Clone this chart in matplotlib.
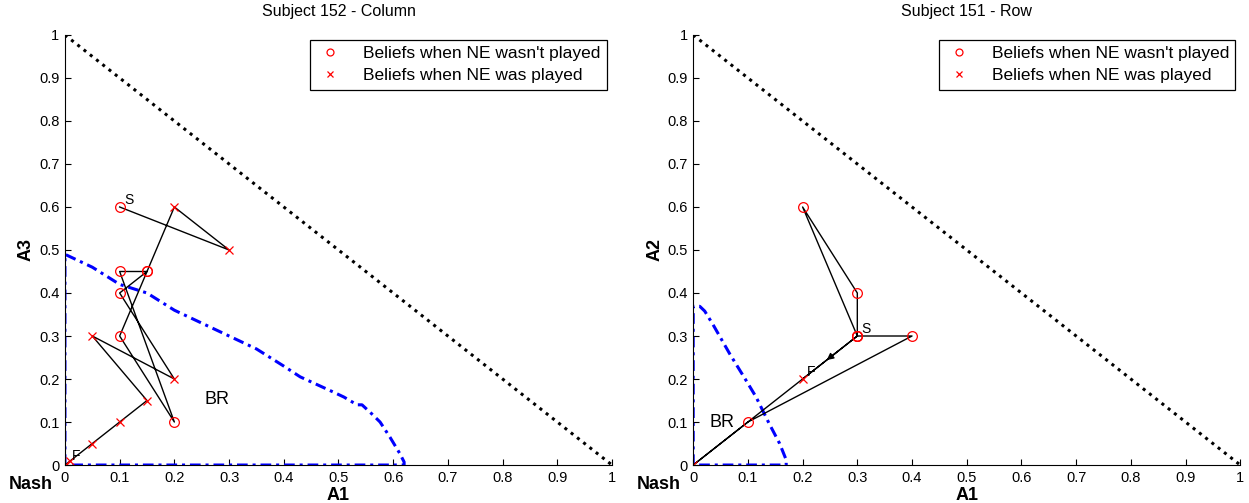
import numpy as np
import matplotlib
matplotlib.use("Agg")
import matplotlib.pyplot as plt

plt.rcParams['font.family'] = ['Liberation Sans', 'DejaVu Sans']

# ---- data ----
ticks = [0, 0.1, 0.2, 0.3, 0.4, 0.5, 0.6, 0.7, 0.8, 0.9, 1]
tick_labels = ["0", "0.1", "0.2", "0.3", "0.4", "0.5", "0.6", "0.7", "0.8", "0.9", "1"]

# subject 152 (column): belief path, start S -> end F
s152_x = [0.1, 0.3, 0.2, 0.15, 0.1, 0.2, 0.1, 0.15, 0.1, 0.2, 0.05, 0.15, 0.1, 0.05, 0.01, 0.0]
s152_y = [0.6, 0.5, 0.6, 0.45, 0.3, 0.1, 0.45, 0.45, 0.4, 0.2, 0.3, 0.15, 0.1, 0.05, 0.01, 0.0]
s152_ne = [0, 1, 1, 0, 0, 0, 0, 0, 0, 1, 1, 1, 1, 1, 1, 1]   # 1 = NE was played
s152_br_x = [0.0, 0.0, 0.05, 0.1, 0.15, 0.2, 0.25, 0.3, 0.35, 0.4, 0.43, 0.49, 0.51, 0.534,
             0.543, 0.56, 0.576, 0.594, 0.612, 0.62, 0.62, 0.0]
s152_br_y = [0.0, 0.49, 0.46, 0.42, 0.40, 0.36, 0.33, 0.30, 0.27, 0.23, 0.205, 0.17, 0.158,
             0.14, 0.14, 0.12, 0.10, 0.065, 0.027, 0.007, 0.0, 0.0]

# subject 151 (row)
s151_x = [0.3, 0.2, 0.3, 0.3, 0.4, 0.1, 0.0, 0.3, 0.2]
s151_y = [0.3, 0.6, 0.4, 0.3, 0.3, 0.1, 0.0, 0.3, 0.2]
s151_ne = [0, 0, 0, 0, 0, 0, 1, 0, 1]
s151_br_x = [0.0, 0.0, 0.012, 0.021, 0.036, 0.067, 0.097, 0.115, 0.139, 0.158, 0.17, 0.17, 0.0]
s151_br_y = [0.0, 0.369, 0.369, 0.358, 0.327, 0.258, 0.196, 0.158, 0.096, 0.05, 0.012, 0.0, 0.0]


def draw_panel(ax, px, py, ne, brx, bry, title, ylab, br_pos, s_pos, f_pos):
    ax.plot([0, 1], [1, 0], color="black", linestyle=(0, (1, 1.6)), linewidth=2.2)
    ax.plot(brx, bry, color="blue", linestyle=(0, (3.5, 1.6, 1, 1.6)), linewidth=2.2)
    ax.plot(px, py, color="black", linewidth=1.0)
    px = np.array(px)
    py = np.array(py)
    ne = np.array(ne, dtype=bool)
    ax.plot(px[~ne], py[~ne], "o", mfc="none", mec="red", ms=7, mew=0.9, linestyle="none")
    ax.plot(px[ne], py[ne], "x", color="red", ms=6, mew=0.9, linestyle="none")
    # legend proxies with the small markers of the original
    ax.plot([], [], "o", mfc="none", mec="red", ms=5, mew=0.9, linestyle="none",
            label="Beliefs when NE wasn't played")
    ax.plot([], [], "x", color="red", ms=4.5, mew=0.9, linestyle="none",
            label="Beliefs when NE was played")
    ax.text(br_pos[0], br_pos[1], "BR", fontsize=13, va="center")
    ax.text(s_pos[0], s_pos[1], "S", fontsize=10, va="bottom")
    ax.text(f_pos[0], f_pos[1], "F", fontsize=10, va="bottom")

    ax.set_xlim(0, 1)
    ax.set_ylim(0, 1)
    ax.set_xticks(ticks)
    ax.set_xticklabels(tick_labels)
    ax.set_yticks(ticks)
    ax.set_yticklabels(tick_labels)
    ax.tick_params(direction="in", length=4, labelsize=10.5, pad=4)
    ax.spines["top"].set_visible(False)
    ax.spines["right"].set_visible(False)
    ax.set_title(title, fontsize=11.5, pad=14)
    ax.set_xlabel("A1", fontsize=13, fontweight="bold", labelpad=2)
    ax.set_ylabel(ylab, fontsize=13, fontweight="bold", labelpad=3)
    ax.text(-0.022, -0.025, "Nash", transform=ax.transAxes, fontsize=13, fontweight="bold",
            ha="right", va="top")
    leg = ax.legend(loc="upper right", fontsize=12.5, fancybox=False, framealpha=1,
                    edgecolor="black", handlelength=1.6, handletextpad=1.1,
                    borderaxespad=0.3, borderpad=0.35, labelspacing=0.4)
    leg.get_frame().set_linewidth(0.9)


fig = plt.figure(figsize=(12.49, 5.03), dpi=100)
ax1 = fig.add_axes([0.052, 0.0755, 0.438, 0.855])
ax2 = fig.add_axes([0.555, 0.0755, 0.438, 0.855])

draw_panel(ax1, s152_x, s152_y, s152_ne, s152_br_x, s152_br_y,
           "Subject 152 - Column", "A3", (0.256, 0.153), (0.108, 0.6), (0.012, 0.005))
draw_panel(ax2, s151_x, s151_y, s151_ne, s151_br_x, s151_br_y,
           "Subject 151 - Row", "A2", (0.03, 0.1), (0.308, 0.3), (0.208, 0.2))

# direction arrow on the last move of subject 151
ax2.annotate("", xy=(0.24, 0.24), xytext=(0.27, 0.27),
             arrowprops=dict(arrowstyle="-|>", color="black", lw=1.0, mutation_scale=10))

fig.savefig("out.png", dpi=100)
